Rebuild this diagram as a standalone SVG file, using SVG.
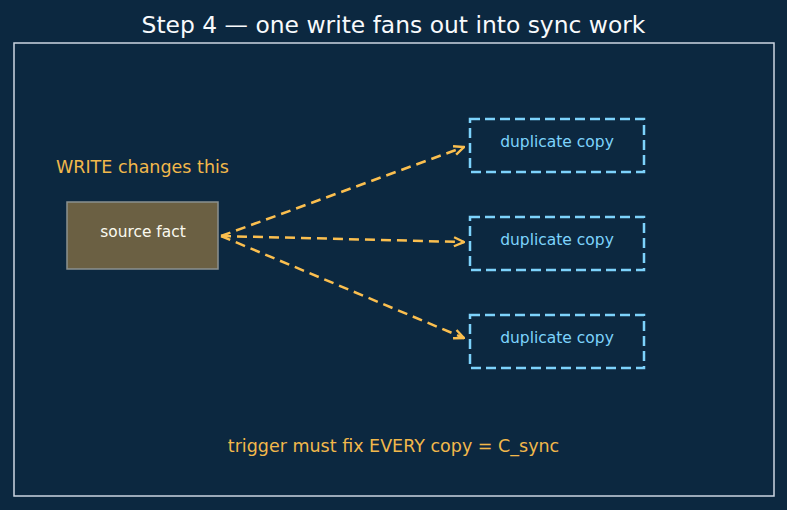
<svg xmlns="http://www.w3.org/2000/svg" width="787" height="510" viewBox="0 0 787 510">
<defs>
<style>
text{font-family:"DejaVu Sans","Liberation Sans",sans-serif}
.dup rect{fill:none;stroke:#7dd3fc;stroke-width:2.5;stroke-dasharray:10 5}
.dup text{fill:#7dd3fc;font-size:15.5px;text-anchor:middle}
.conn path{fill:none;stroke:#fbbf4f;stroke-width:2.5;stroke-dasharray:10 6}
.lbl{fill:#f2b84b;font-size:17.5px}
</style>
<marker id="ah" viewBox="0 0 12 12" refX="11" refY="6" markerWidth="12" markerHeight="12" markerUnits="userSpaceOnUse" orient="auto">
<path d="M1,1.5 L11,6 L1,10.5" fill="none" stroke="#fbbf4f" stroke-width="2.4" stroke-dasharray="none"/>
</marker>
</defs>
<rect width="787" height="510" fill="#0c2840"/>
<text x="393.5" y="32.5" text-anchor="middle" font-size="23.4" fill="#f8fafc">Step 4 — one write fans out into sync work</text>
<rect x="14" y="43" width="760" height="453" fill="none" stroke="#cbd5e1" stroke-width="1.5"/>
<text class="lbl" x="56" y="172.5">WRITE changes this</text>
<g id="source">
<rect x="67" y="202" width="151" height="67" fill="#6b6043" stroke="#8a9190" stroke-width="1.5"/>
<text x="143" y="236.5" text-anchor="middle" font-size="15.4" fill="#fbfaf0">source fact</text>
</g>
<g id="dup1" class="dup"><rect x="470" y="119" width="174" height="53"/><text x="557" y="146.5">duplicate copy</text></g>
<g id="dup2" class="dup"><rect x="470" y="217" width="174" height="53"/><text x="557" y="244.5">duplicate copy</text></g>
<g id="dup3" class="dup"><rect x="470" y="315" width="174" height="53"/><text x="557" y="342.5">duplicate copy</text></g>
<g id="connectors" class="conn">
<path d="M221,236 L464,147" marker-end="url(#ah)"/>
<path d="M221,236 L464,242" marker-end="url(#ah)"/>
<path d="M221,236 L464,338" marker-end="url(#ah)"/>
</g>
<text class="lbl" x="393.5" y="451.5" text-anchor="middle">trigger must fix EVERY copy = C_sync</text>
</svg>
